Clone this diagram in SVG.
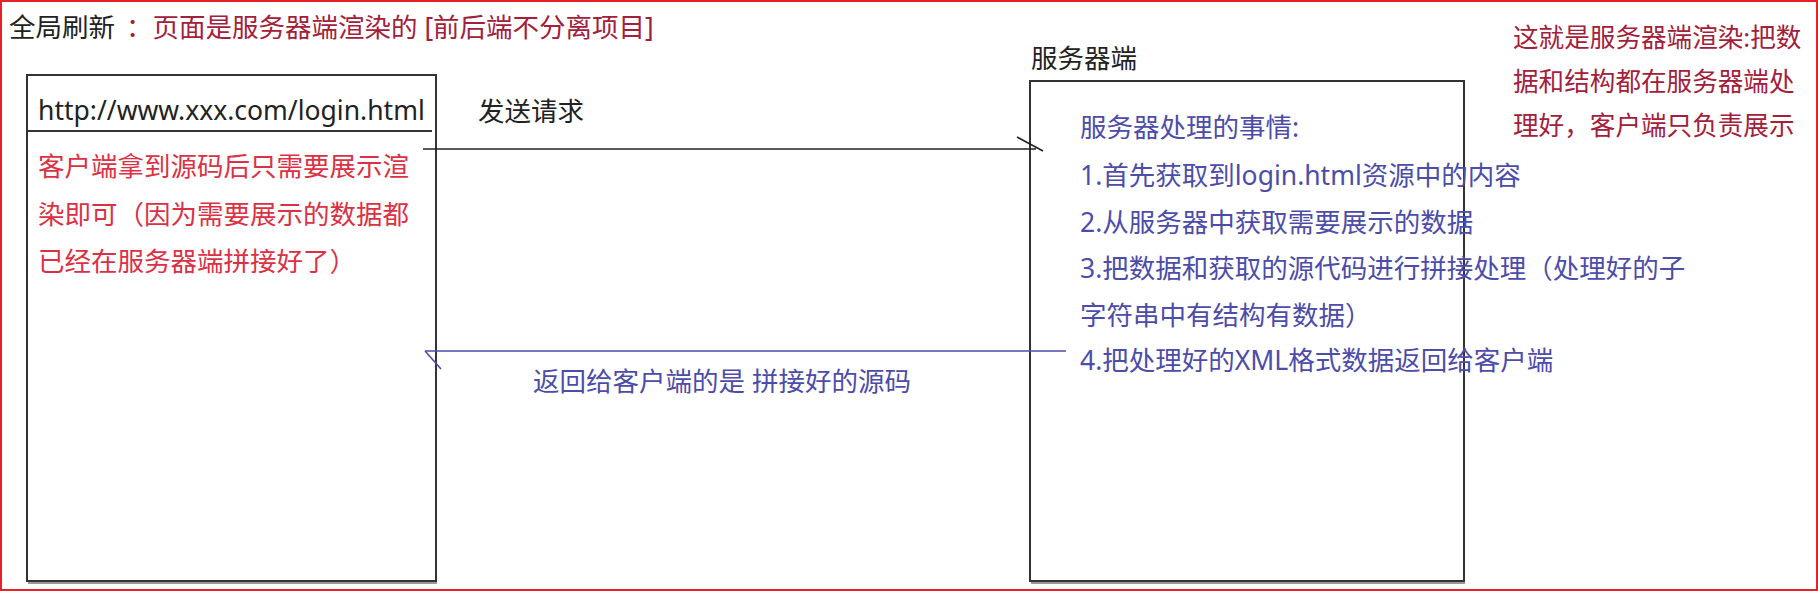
<svg xmlns="http://www.w3.org/2000/svg" width="1818" height="591" viewBox="0 0 1818 591">
<style>
text{font-family:"Noto Sans","Noto Sans CJK SC",sans-serif;font-size:26.5px}
.note{font-size:25.6px}
.k{fill:#222}
.dr{fill:#a3203a}
.r{fill:#dc3045}
.b{fill:#4c4caa}
.box{fill:#fff;stroke:#333;stroke-width:2}
.sh{stroke:#999;stroke-width:2}
.c{fill:none;stroke:#222;stroke-width:1.6}
.cb{fill:none;stroke:#4c4caa;stroke-width:1.6}
</style>
<rect x="0" y="0" width="1818" height="591" fill="#fff"/>
<rect x="1" y="1" width="1816" height="589" fill="none" stroke="#e8202a" stroke-width="2"/>
<g id="title">
<text class="k" x="9" y="37">全局刷新</text>
<text class="dr" x="126" y="37">：页面是服务器端渲染的 [前后端不分离项目]</text>
</g>
<g id="client">
<rect class="box" x="27" y="75" width="409" height="506"/>
<line class="sh" x1="28" y1="583" x2="437" y2="583"/>
<line x1="27" y1="131" x2="432" y2="131" stroke="#333" stroke-width="2"/>
<text class="k" x="38" y="120" font-size="27">http://www.xxx.com/login.html</text>
<text class="r" x="38" y="176">客户端拿到源码后只需要展示渲</text>
<text class="r" x="38" y="224">染即可（因为需要展示的数据都</text>
<text class="r" x="38" y="271">已经在服务器端拼接好了）</text>
</g>
<g id="server-label">
<text class="k" x="1031" y="68">服务器端</text>
</g>
<g id="server">
<rect class="box" x="1030" y="81" width="434" height="500"/>
<line class="sh" x1="1031" y1="583" x2="1465" y2="583"/>
<text class="b" x="1080" y="137">服务器处理的事情:</text>
<text class="b" x="1080" y="185">1.首先获取到login.html资源中的内容</text>
<text class="b" x="1080" y="232">2.从服务器中获取需要展示的数据</text>
<text class="b" x="1080" y="278">3.把数据和获取的源代码进行拼接处理（处理好的子</text>
<text class="b" x="1080" y="325">字符串中有结构有数据）</text>
<text class="b" x="1080" y="370">4.把处理好的XML格式数据返回给客户端</text>
</g>
<g id="note">
<text class="dr note" x="1513" y="47">这就是服务器端渲染:把数</text>
<text class="dr note" x="1513" y="91">据和结构都在服务器端处</text>
<text class="dr note" x="1513" y="135">理好，客户端只负责展示</text>
</g>
<g id="connectors">
<line class="c" x1="423" y1="149" x2="1036" y2="149"/>
<line class="c" x1="1017" y1="137" x2="1043" y2="151"/>
<text class="k" x="478" y="121">发送请求</text>
<line class="cb" x1="425" y1="351" x2="1066" y2="351"/>
<line class="cb" x1="425" y1="351" x2="441" y2="369"/>
<text class="b" x="533" y="391">返回给客户端的是 拼接好的源码</text>
</g>
</svg>
